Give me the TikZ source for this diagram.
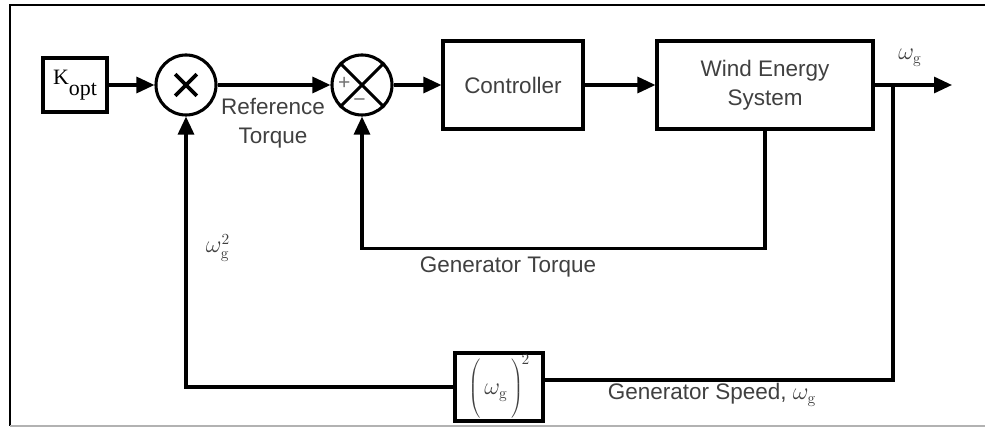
\documentclass[tikz,border=0pt]{standalone}
\usepackage[no-math]{fontspec}
\setmainfont{Liberation Sans}
\newfontfamily\tnr{Liberation Serif}
\usepackage{tikz}
\usetikzlibrary{arrows.meta,positioning,calc}

\begin{document}
\begin{tikzpicture}[
    line width=2.2pt,
    block/.style={draw, minimum height=2.2cm, align=center, text=black!75, font=\fontsize{16}{21}\selectfont},
    junction/.style={draw, circle, minimum size=1.5cm, inner sep=0pt},
    sig/.style={-{Triangle[length=0.45cm, width=0.4cm]}},
    lbl/.style={text=black!75, align=center, font=\fontsize{16}{21}\selectfont}
]
    % Frame
    \useasboundingbox (0,0) rectangle (24.625,10.675);
    \draw[line width=1.7pt] (0.25,0.03) -- (0.25,10.55) -- (24.625,10.55);
    \draw[gray!60, line width=1pt] (0.25,0.03) -- (24.625,0.03);

    % Forward path
    \node[block, minimum width=1.6cm, minimum height=1.35cm, text=black] (kopt) at (1.875,8.55)
        {\tnr\fontsize{15.6}{18}\selectfont K\raisebox{-1.1ex}{opt}};
    \node[junction] (mult) at (4.65,8.55) {};
    \node[junction] (sum) at (9.05,8.55) {};
    \node[block, minimum width=3.5cm] (ctrl) at (12.825,8.55) {Controller};
    \node[block, minimum width=5.4cm] (wes) at (19.125,8.55) {Wind Energy\\System};
    \coordinate (branch) at (22.325,8.55);
    \coordinate (out) at (23.8,8.55);

    % Squaring block
    \node[block, minimum width=2.2cm, minimum height=1.7cm, inner sep=1pt] (sq) at (12.475,1.0)
        {\fontsize{16}{18}\selectfont$\left(\rule[-0.62cm]{0pt}{1.3cm}\,\omega_{\mathrm g}\,\right)^{\!2}$};

    % Multiplier and summing signs
    \draw[line width=2.6pt] ($(mult)+(-0.27,-0.27)$) -- ($(mult)+(0.27,0.27)$)
        ($(mult)+(-0.27,0.27)$) -- ($(mult)+(0.27,-0.27)$);
    \draw (sum.north west) -- (sum.south east) (sum.north east) -- (sum.south west);
    \node[text=black!55, font=\fontsize{15}{15}\selectfont] (plus) at ($(sum)+(-0.44,0.05)$) {+};
    \node[text=black!55, font=\fontsize{15}{15}\selectfont] (minus) at ($(sum)+(-0.06,-0.45)$) {−};

    % Connectors
    \draw[sig] (kopt) -- (mult);
    \draw[sig] (mult) -- (sum);
    \draw[sig] (sum) -- (ctrl);
    \draw[sig] (ctrl) -- (wes);
    \draw[sig] (wes) -- (out);
    \draw[sig] (wes.south) -- ++(0,-2.95) -| (sum.south);
    \draw (branch) |- ($(sq.east)+(0,0.175)$);
    \draw[sig] (sq.west) -| (mult.south);

    % Labels
    \node[lbl] (reftq) at (6.825,7.6) {Reference\\Torque};
    \node[lbl] (gentq) at (12.7,4.0) {Generator Torque};
    \node[lbl] (wgout) at (22.75,9.225) {$\omega_{\mathrm g}$};
    \node[lbl] (wgsq) at (5.45,4.475) {$\omega_{\mathrm g}^2$};
    \node[lbl] (genspd) at (17.8,0.8) {Generator Speed, $\omega_{\mathrm g}$};
\end{tikzpicture}
\end{document}
